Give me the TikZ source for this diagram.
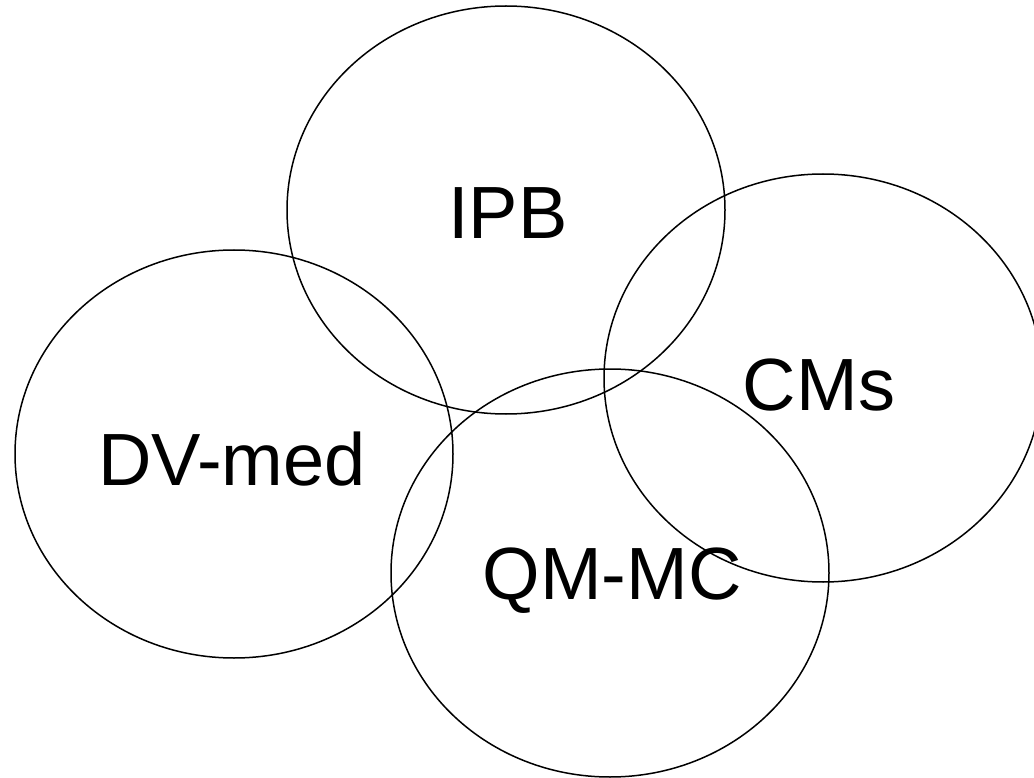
\documentclass[tikz,border=0pt]{standalone}
\usepackage{fontspec}
\setmainfont{Liberation Sans}
\usetikzlibrary{shapes.geometric}
\begin{document}
\begin{tikzpicture}[x=1pt,y=-1pt,
  field/.style={draw=black, line width=1.5pt, ellipse, inner sep=0pt,
    minimum width=438pt, minimum height=408pt},
  tag/.style={font=\fontsize{74}{74}\selectfont, inner sep=0pt, anchor=base}]
  \useasboundingbox (0,0) rectangle (1034,778);
  % overlapping research fields
  \node[field] (ipb) at (506,210) {};
  \node[field] (dvmed) at (234,454) {};
  \node[field] (cms) at (823,378) {};
  \node[field] (qmmc) at (610,573) {};
  % field names
  \node[tag] (ipbt) at (508,239) {IPB};
  \node[tag] (cmst) at (819,410) {CMs};
  \node[tag] (dvmedt) at (232,485) {DV-med};
  \node[tag] (qmmct) at (612,599) {QM-MC};
\end{tikzpicture}
\end{document}
